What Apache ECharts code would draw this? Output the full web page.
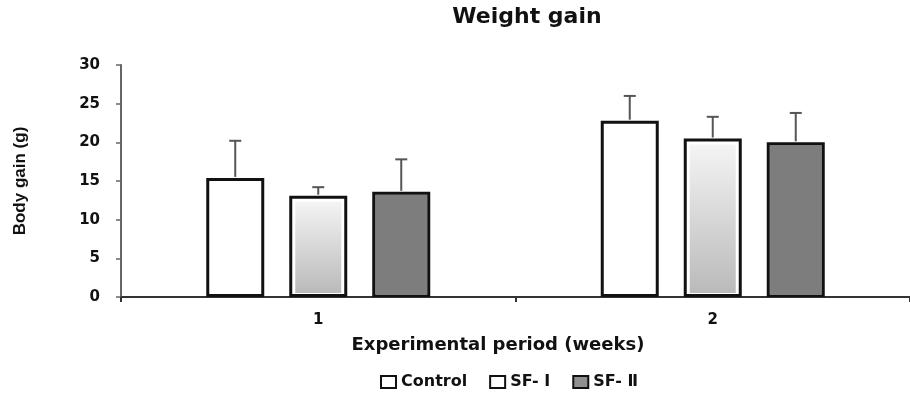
<!DOCTYPE html>
<html>
<head>
<meta charset="utf-8">
<script src="https://cdn.jsdelivr.net/npm/echarts@6/dist/echarts.min.js"></script>
<style>html,body{margin:0;padding:0;background:#fff;}#c{width:910px;height:396px;}</style>
</head>
<body>
<div id="c"></div>
<script>
const categories = ['1', '2'];
const seriesNames = ['Control', 'SF- Ⅰ', 'SF- Ⅱ'];
const controlMean = [15.4, 22.8];
const controlErr = [4.8, 3.2];
const sf1Mean = [13.1, 20.5];
const sf1Err = [1.1, 2.8];
const sf2Mean = [13.6, 20.0];
const sf2Err = [4.2, 3.8];
const yTicks = [0, 5, 10, 15, 20, 25, 30];

const BAR_W = 58, BAR_GAP = 25;
const FONT = '"DejaVu Sans", Verdana, sans-serif';

const means = [controlMean, sf1Mean, sf2Mean];
const errs = [controlErr, sf1Err, sf2Err];

function errorSeries(k) {
  return {
    type: 'custom',
    silent: true,
    z: 5,
    data: categories.map((c, i) => [i, means[k][i], means[k][i] + errs[k][i]]),
    renderItem: function (params, api) {
      const off = (k - 1) * (BAR_W + BAR_GAP);
      const p0 = api.coord([api.value(0), api.value(1)]);
      const p1 = api.coord([api.value(0), api.value(2)]);
      const x = p0[0] + off;
      const st = { stroke: '#555', lineWidth: 2 };
      return {
        type: 'group',
        children: [
          { type: 'line', shape: { x1: x, y1: p0[1] - 1, x2: x, y2: p1[1] }, style: st },
          { type: 'line', shape: { x1: x - 6, y1: p1[1], x2: x + 6, y2: p1[1] }, style: st }
        ]
      };
    }
  };
}

function innerFill(k, fill) {
  return {
    type: 'custom',
    silent: true,
    z: 3,
    data: categories.map((c, i) => [i, means[k][i]]),
    renderItem: function (params, api) {
      const off = (k - 1) * (BAR_W + BAR_GAP);
      const p0 = api.coord([api.value(0), 0]);
      const p1 = api.coord([api.value(0), api.value(1)]);
      const inset = k === 1 ? 6 : 3;
      const x = p0[0] + off - BAR_W / 2 + inset;
      const y = p1[1] + inset;
      const h = p0[1] - p1[1] - inset - (k === 1 ? 4 : 2);
      return {
        type: 'rect',
        shape: { x: x, y: y, width: BAR_W - 2 * inset, height: h },
        style: { fill: fill }
      };
    }
  };
}

const fills = ['#ffffff', '#ffffff', '#909090'];

const chart = echarts.init(document.getElementById('c'));
chart.setOption({
  animation: false,
  backgroundColor: '#fff',
  title: [
    { text: 'Weight gain', left: 527, top: 6, textAlign: 'center', padding: 0,
      textStyle: { fontFamily: FONT, fontWeight: 'bold', fontSize: 22, color: '#111' } },
    { text: 'Experimental period (weeks)', left: 498, top: 336, textAlign: 'center', padding: 0,
      textStyle: { fontFamily: FONT, fontWeight: 'bold', fontSize: 18, color: '#111' } }
  ],
  legend: {
    left: 380, top: 374, padding: 0,
    itemWidth: 15, itemHeight: 12, itemGap: 22,
    icon: 'rect',
    data: seriesNames.map((n, k) => ({ name: n, itemStyle: { color: fills[k], borderColor: '#111', borderWidth: 2 } })),
    textStyle: { fontFamily: FONT, fontWeight: 'bold', fontSize: 16, color: '#111' }
  },
  grid: { left: 121, top: 65, width: 794, height: 232 },
  xAxis: {
    type: 'category',
    data: categories,
    axisLine: { lineStyle: { color: '#333', width: 2 } },
    axisTick: { show: true, length: 5, lineStyle: { color: '#333', width: 2 } },
    axisLabel: { fontFamily: FONT, fontWeight: 'bold', fontSize: 15, color: '#111', margin: 16 }
  },
  yAxis: {
    type: 'value',
    min: 0, max: 30, interval: 5,
    name: 'Body gain (g)',
    nameLocation: 'middle',
    nameGap: 92,
    nameRotate: 90,
    nameTextStyle: { fontFamily: '"Liberation Sans Narrow", "Liberation Sans", sans-serif', fontWeight: 'bold', fontSize: 17, color: '#111' },
    axisLine: { show: true, lineStyle: { color: '#666', width: 2 } },
    axisTick: { show: true, length: 5, lineStyle: { color: '#666', width: 1.5 } },
    splitLine: { show: false },
    axisLabel: { fontFamily: FONT, fontWeight: 'bold', fontSize: 15, color: '#111', margin: 21,
      formatter: v => (yTicks.indexOf(v) >= 0 ? String(v) : '') }
  },
  series: [
    { name: seriesNames[0], type: 'bar', data: controlMean, barWidth: BAR_W, barGap: (BAR_GAP / BAR_W * 100) + '%',
      itemStyle: { color: fills[0], borderColor: '#111', borderWidth: 3 }, z: 2 },
    { name: seriesNames[1], type: 'bar', data: sf1Mean, barWidth: BAR_W, barGap: (BAR_GAP / BAR_W * 100) + '%',
      itemStyle: { color: fills[1], borderColor: '#111', borderWidth: 3 }, z: 2 },
    { name: seriesNames[2], type: 'bar', data: sf2Mean, barWidth: BAR_W, barGap: (BAR_GAP / BAR_W * 100) + '%',
      itemStyle: { color: fills[2], borderColor: '#111', borderWidth: 3 }, z: 2 },
    innerFill(1, new echarts.graphic.LinearGradient(0, 0, 0, 1, [
      { offset: 0, color: '#f4f4f4' },
      { offset: 1, color: '#bababa' }
    ])),
    innerFill(2, '#7d7d7d'),
    errorSeries(0), errorSeries(1), errorSeries(2)
  ]
});
</script>
</body>
</html>
